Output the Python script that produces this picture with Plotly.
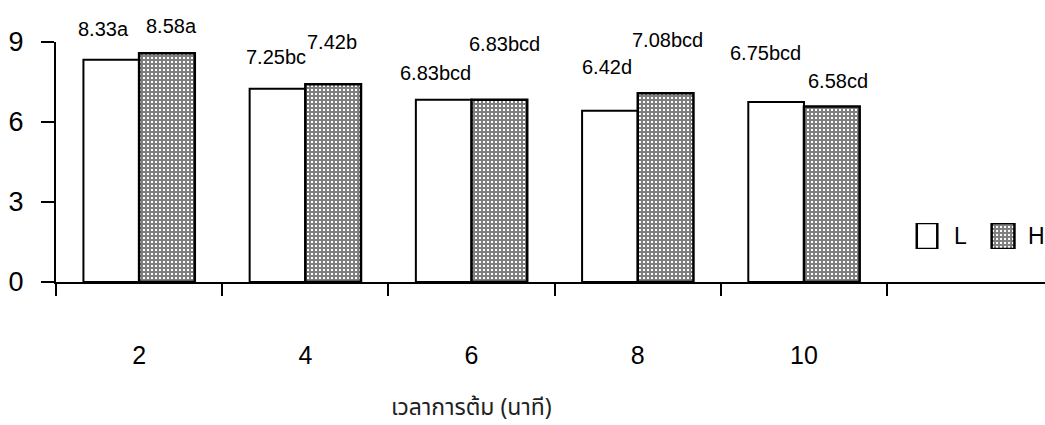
import plotly.graph_objects as go

# Boiling time (minutes) and mean scores for the two treatments
boil_time = ["2", "4", "6", "8", "10"]
score_L = [8.33, 7.25, 6.83, 6.42, 6.75]
score_H = [8.58, 7.42, 6.83, 7.08, 6.58]
letters_L = ["a", "bc", "bcd", "d", "bcd"]
letters_H = ["a", "b", "bcd", "bcd", "cd"]
y_ticks = [0, 3, 6, 9]
legend_names = ["L", "H"]

# label placement (pixel offsets from category centre / bar top)
dx_L = [-36, -29, -36, -31, -38]
dx_H = [32, 27, 33, 30, 34]
dy_L = [31, 32, 27, 44, 49]
dy_H = [27, 42, 56, 53, 26]

ARIAL = "Arial, Liberation Sans, Helvetica, sans-serif"
grid_pattern = dict(shape="+", size=4, solidity=0.75, fgcolor="black", bgcolor="white")

fig = go.Figure()
fig.add_trace(go.Bar(
    x=boil_time, y=score_L, name="L",
    marker=dict(color="white", line=dict(color="black", width=2)),
    showlegend=False,
))
fig.add_trace(go.Bar(
    x=boil_time, y=score_H, name="H",
    marker=dict(color="white", pattern=grid_pattern, line=dict(color="black", width=2.5)),
    showlegend=False,
))

# value labels with significance letters (x given as category index)
for i in range(len(boil_time)):
    for vals, lets, dx, dy in ((score_L, letters_L, dx_L, dy_L), (score_H, letters_H, dx_H, dy_H)):
        fig.add_annotation(
            x=i, y=vals[i], xref="x", yref="y",
            text=f"{vals[i]:.2f}{lets[i]}", showarrow=False,
            xshift=dx[i], yshift=dy[i], xanchor="center", yanchor="middle",
            font=dict(family=ARIAL, size=20, color="black"),
        )

# legend swatches drawn as bars on a small hidden axis pair
fig.add_trace(go.Bar(
    x=legend_names[:1], y=[1], xaxis="x2", yaxis="y2", width=0.27,
    marker=dict(color="white", line=dict(color="black", width=2.5)),
    showlegend=False, hoverinfo="skip",
))
fig.add_trace(go.Bar(
    x=legend_names[1:], y=[1], xaxis="x2", yaxis="y2", width=0.3,
    marker=dict(color="white", pattern=grid_pattern, line=dict(color="black", width=2.5)),
    showlegend=False, hoverinfo="skip",
))
for k, name in enumerate(legend_names):
    fig.add_annotation(
        x=k, y=0.5, xref="x2", yref="y2", text=name, showarrow=False,
        xshift=33, xanchor="center", yanchor="middle",
        font=dict(family=ARIAL, size=23, color="black"),
    )

fig.add_annotation(
    x=0.4206, y=-0.525, xref="paper", yref="paper",
    text="เวลาการต้ม (นาที)", showarrow=False,
    xanchor="center", yanchor="middle",
    font=dict(family="Noto Sans Thai, Loma, Tahoma, Noto Sans, sans-serif", size=23, color="#222"),
)

fig.update_layout(
    width=1045, height=425,
    margin=dict(l=56, r=0, t=42, b=143),
    paper_bgcolor="white", plot_bgcolor="white",
    barmode="group", bargap=0.33, bargroupgap=0,
    xaxis=dict(
        type="category", range=[-0.5, 5.45],
        showline=True, linecolor="black", linewidth=2,
        ticks="outside", tickson="boundaries", ticklen=12, tickwidth=2, tickcolor="black",
        ticklabelstandoff=50,
        tickfont=dict(family=ARIAL, size=25, color="black"),
        showgrid=False, zeroline=False,
    ),
    yaxis=dict(
        range=[0, 9], tickvals=y_ticks,
        showline=True, linecolor="black", linewidth=2,
        ticks="outside", ticklen=13, tickwidth=2, tickcolor="black",
        ticklabelstandoff=12,
        tickfont=dict(family=ARIAL, size=27, color="black"),
        showgrid=False, zeroline=False,
    ),
    xaxis2=dict(
        domain=[0.8423, 0.996], range=[-0.5, 1.5], anchor="y2",
        type="category", visible=False, fixedrange=True,
    ),
    yaxis2=dict(
        domain=[0.1375, 0.246], range=[0, 1], anchor="x2",
        visible=False, fixedrange=True,
    ),
)

fig.write_html("out.html")
